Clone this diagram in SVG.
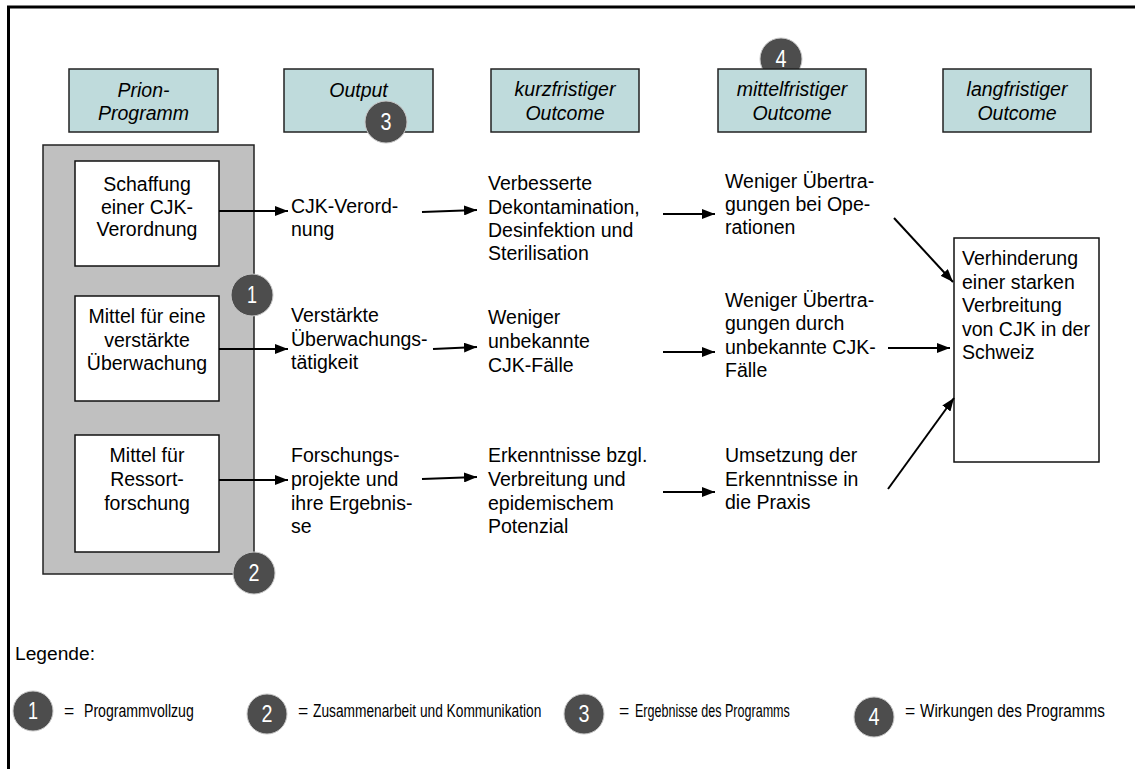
<svg xmlns="http://www.w3.org/2000/svg" width="1135" height="769" viewBox="0 0 1135 769">
<defs>
<style>
.t{font-family:"Liberation Sans",Arial,sans-serif;font-size:19.5px;fill:#000}
.c{text-anchor:middle}
.h{font-style:italic}
.hdr{fill:#bfdbdc;stroke:#222;stroke-width:1.5}
.wb{fill:#fff;stroke:#111;stroke-width:1.5}
.conn line{stroke:#000;stroke-width:2;marker-end:url(#ah)}
.bd circle{fill:#4d4d4d;stroke:#c8c8c8;stroke-width:1}
.bn{font-family:"Liberation Sans Narrow","Liberation Sans",Arial,sans-serif;font-size:23px;fill:#fff;text-anchor:middle}
.lg{font-family:"Liberation Sans Narrow","Liberation Sans",Arial,sans-serif;font-size:17.5px;fill:#000}
</style>
<marker id="ah" markerWidth="13" markerHeight="10" refX="13" refY="5" orient="auto" markerUnits="userSpaceOnUse"><path d="M0,0 L13,5 L0,10 z" fill="#000"/></marker>
</defs>
<rect width="1135" height="769" fill="#fff"/>
<path d="M8.5,769 L8.5,7 L1135,7" fill="none" stroke="#000" stroke-width="3"/>

<g id="badge4" class="bd"><circle cx="781" cy="59" r="21"/><text class="bn" x="781" y="67" textLength="11" lengthAdjust="spacingAndGlyphs">4</text></g>

<g id="h1"><rect class="hdr" x="69" y="69" width="149" height="63"/><text class="t h c" x="143.5" y="97">Prion-</text><text class="t h c" x="143.5" y="120">Programm</text></g>
<g id="h2"><rect class="hdr" x="284" y="69" width="149" height="63"/><text class="t h c" x="358.5" y="97">Output</text></g>
<g id="h3"><rect class="hdr" x="491" y="69" width="148" height="63"/><text class="t h c" x="565" y="96">kurzfristiger</text><text class="t h c" x="565" y="120">Outcome</text></g>
<g id="h4"><rect class="hdr" x="718" y="69" width="148" height="63"/><text class="t h c" x="792" y="96">mittelfristiger</text><text class="t h c" x="792" y="120">Outcome</text></g>
<g id="h5"><rect class="hdr" x="943" y="69" width="148" height="63"/><text class="t h c" x="1017" y="96">langfristiger</text><text class="t h c" x="1017" y="120">Outcome</text></g>

<g id="programm"><rect x="43" y="145" width="211" height="429" fill="#c0c0c0" stroke="#222" stroke-width="1.5"/></g>
<g id="p1"><rect class="wb" x="75" y="161" width="144" height="105"/><text class="t c" x="147" y="191">Schaffung</text><text class="t c" x="147" y="213.5">einer CJK-</text><text class="t c" x="147" y="236">Verordnung</text></g>
<g id="p2"><rect class="wb" x="75" y="296" width="144" height="105"/><text class="t c" x="147" y="323">Mittel für eine</text><text class="t c" x="147" y="347">verstärkte</text><text class="t c" x="147" y="370">Überwachung</text></g>
<g id="p3"><rect class="wb" x="75" y="435" width="144" height="117"/><text class="t c" x="147" y="462">Mittel für</text><text class="t c" x="147" y="486">Ressort-</text><text class="t c" x="147" y="510">forschung</text></g>

<g id="o1"><text class="t" x="291" y="213">CJK-Verord-</text><text class="t" x="291" y="236">nung</text></g>
<g id="o2"><text class="t" x="291" y="322">Verstärkte</text><text class="t" x="291" y="346">Überwachungs-</text><text class="t" x="291" y="369">tätigkeit</text></g>
<g id="o3"><text class="t" x="291" y="462">Forschungs-</text><text class="t" x="291" y="486">projekte und</text><text class="t" x="291" y="510">ihre Ergebnis-</text><text class="t" x="291" y="533">se</text></g>

<g id="k1"><text class="t" x="488" y="189.5">Verbesserte</text><text class="t" x="488" y="213.5">Dekontamination,</text><text class="t" x="488" y="237">Desinfektion und</text><text class="t" x="488" y="260">Sterilisation</text></g>
<g id="k2"><text class="t" x="488" y="324">Weniger</text><text class="t" x="488" y="348">unbekannte</text><text class="t" x="488" y="372">CJK-Fälle</text></g>
<g id="k3"><text class="t" x="488" y="462">Erkenntnisse bzgl.</text><text class="t" x="488" y="486">Verbreitung und</text><text class="t" x="488" y="509.5">epidemischem</text><text class="t" x="488" y="533">Potenzial</text></g>

<g id="m1"><text class="t" x="725" y="188">Weniger Übertra-</text><text class="t" x="725" y="211">gungen bei Ope-</text><text class="t" x="725" y="234">rationen</text></g>
<g id="m2"><text class="t" x="725" y="307">Weniger Übertra-</text><text class="t" x="725" y="330">gungen durch</text><text class="t" x="725" y="354">unbekannte CJK-</text><text class="t" x="725" y="377">Fälle</text></g>
<g id="m3"><text class="t" x="725" y="462">Umsetzung der</text><text class="t" x="725" y="486">Erkenntnisse in</text><text class="t" x="725" y="509">die Praxis</text></g>

<g id="l1"><rect class="wb" x="954" y="238" width="145" height="224"/><text class="t" x="962" y="265">Verhinderung</text><text class="t" x="962" y="289">einer starken</text><text class="t" x="962" y="312">Verbreitung</text><text class="t" x="962" y="336">von CJK in der</text><text class="t" x="962" y="359">Schweiz</text></g>

<g id="connectors" class="conn">
<line x1="219" y1="211" x2="288" y2="211"/>
<line x1="219" y1="349" x2="288" y2="349"/>
<line x1="219" y1="480" x2="288" y2="480"/>
<line x1="422" y1="212" x2="477" y2="210"/>
<line x1="433" y1="349" x2="477" y2="347"/>
<line x1="422" y1="479" x2="477" y2="477"/>
<line x1="663" y1="214" x2="715" y2="214"/>
<line x1="663" y1="352" x2="715" y2="352"/>
<line x1="663" y1="492" x2="715" y2="492"/>
<line x1="894" y1="218" x2="953" y2="282"/>
<line x1="888" y1="348" x2="950" y2="348"/>
<line x1="888" y1="489" x2="954" y2="398"/>
</g>

<g id="badge3" class="bd"><circle cx="386" cy="122" r="21"/><text class="bn" x="386" y="130" textLength="11" lengthAdjust="spacingAndGlyphs">3</text></g>
<g id="badge1" class="bd"><circle cx="252" cy="295" r="21"/><text class="bn" x="252" y="303" textLength="10" lengthAdjust="spacingAndGlyphs">1</text></g>
<g id="badge2" class="bd"><circle cx="254" cy="573" r="21"/><text class="bn" x="254" y="581" textLength="11" lengthAdjust="spacingAndGlyphs">2</text></g>

<g id="legend">
<text class="lg" x="15" y="660" font-size="19" textLength="80" lengthAdjust="spacingAndGlyphs">Legende:</text>
<g class="bd"><circle cx="33" cy="711" r="20"/><text class="bn" x="33" y="719" textLength="10" lengthAdjust="spacingAndGlyphs">1</text></g>
<text class="lg" x="64" y="717" font-size="14">=</text>
<text class="lg" transform="translate(84,717) scale(0.79,1)" textLength="139" lengthAdjust="spacingAndGlyphs">Programmvollzug</text>
<g class="bd"><circle cx="267" cy="714" r="20"/><text class="bn" x="267" y="722" textLength="11" lengthAdjust="spacingAndGlyphs">2</text></g>
<text class="lg" x="298" y="717" font-size="14">=</text>
<text class="lg" transform="translate(313,717) scale(0.79,1)" textLength="289" lengthAdjust="spacingAndGlyphs">Zusammenarbeit und Kommunikation</text>
<g class="bd"><circle cx="584" cy="714" r="20"/><text class="bn" x="584" y="722" textLength="11" lengthAdjust="spacingAndGlyphs">3</text></g>
<text class="lg" x="619" y="717" font-size="14">=</text>
<text class="lg" transform="translate(635,717) scale(0.79,1)" textLength="196" lengthAdjust="spacingAndGlyphs">Ergebnisse des Programms</text>
<g class="bd"><circle cx="874" cy="717" r="20"/><text class="bn" x="874" y="725" textLength="11" lengthAdjust="spacingAndGlyphs">4</text></g>
<text class="lg" x="905" y="717" font-size="14">=</text>
<text class="lg" transform="translate(920,717) scale(0.79,1)" textLength="234" lengthAdjust="spacingAndGlyphs">Wirkungen des Programms</text>
</g>
</svg>
